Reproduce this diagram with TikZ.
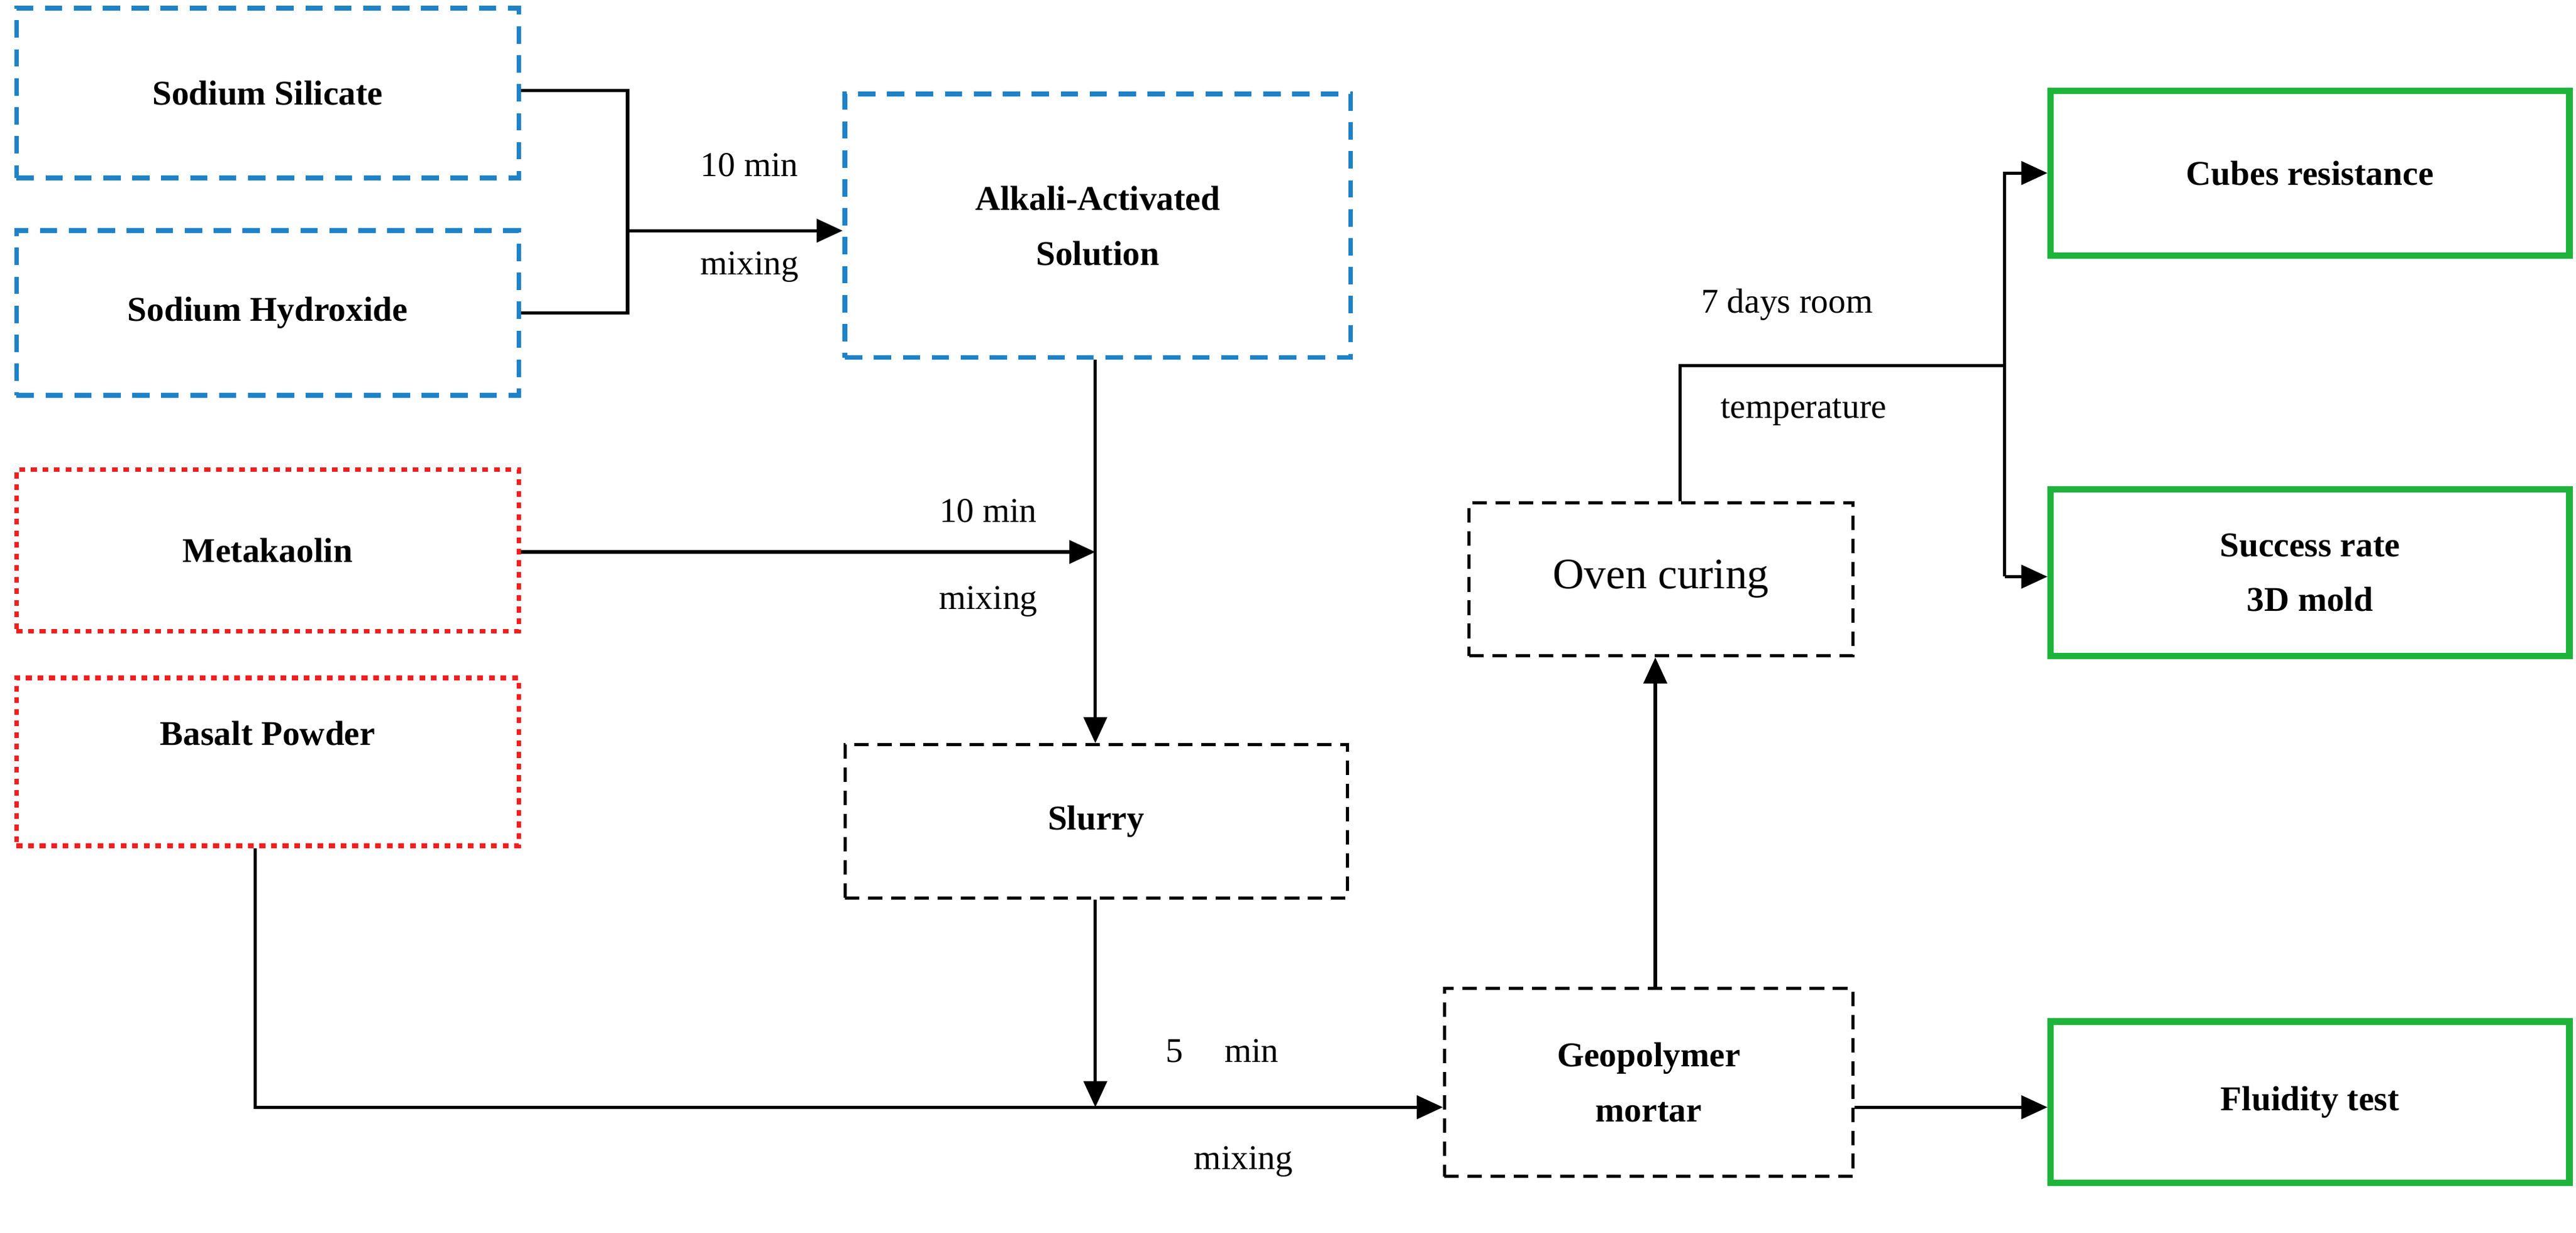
\documentclass[tikz,border=0pt]{standalone}
\usepackage{fontspec}
\setmainfont{Liberation Serif}
\usetikzlibrary{arrows.meta}
\begin{document}
\begin{tikzpicture}[x=0.02cm,y=-0.02cm,
 box/.style={draw,line width=1.6pt,inner sep=0pt,align=center,font=\fontsize{12}{19}\selectfont\bfseries},
 blue/.style={box,draw={rgb,255:red,30;green,130;blue,200},dash pattern=on 6pt off 4pt},
 red/.style={box,draw={rgb,255:red,240;green,30;blue,30},dash pattern=on 2pt off 2pt},
 blk/.style={box,line width=1.1pt,dash pattern=on 5pt off 3pt},
 grn/.style={box,draw={rgb,255:red,30;green,180;blue,60},line width=2.2pt},
 ln/.style={line width=1.1pt},
 arr/.style={ln,-{Triangle[length=9pt,width=8pt]}},
 lbl/.style={font=\fontsize{12}{14}\selectfont}]
\useasboundingbox (0,0) rectangle (1564,748);
\node[blue,minimum width=305*0.02cm,minimum height=103*0.02cm] (ss) at (162.5,56.5) {Sodium Silicate};
\node[blue,minimum width=305*0.02cm,minimum height=100*0.02cm] (sh) at (162.5,190) {Sodium Hydroxide};
\node[blue,minimum width=307*0.02cm,minimum height=160*0.02cm] (aa) at (666.5,137) {Alkali-Activated\\Solution};
\node[red,minimum width=305*0.02cm,minimum height=98*0.02cm] (mk) at (162.5,334) {Metakaolin};
\node[red,minimum width=305*0.02cm,minimum height=102*0.02cm,anchor=north] (bp) at (162.5,410) {};
\node[font=\fontsize{12}{19}\selectfont\bfseries,inner sep=0pt] (bpl) at (162.5,445) {Basalt Powder};
\node[blk,minimum width=305*0.02cm,minimum height=93*0.02cm] (sl) at (665.5,498.5) {Slurry};
\node[blk,minimum width=233*0.02cm,minimum height=93*0.02cm,font=\fontsize{15}{18}\selectfont] (oc) at (1008.5,351.5) {Oven curing};
\node[blk,minimum width=248*0.02cm,minimum height=114*0.02cm] (gm) at (1001,657) {Geopolymer\\mortar};
\node[grn,minimum width=315*0.02cm,minimum height=100*0.02cm] (cr) at (1402.5,105) {Cubes resistance};
\node[grn,minimum width=315*0.02cm,minimum height=101*0.02cm] (sr) at (1402.5,347.5) {Success rate\\3D mold};
\node[grn,minimum width=315*0.02cm,minimum height=98*0.02cm] (ft) at (1402.5,669) {Fluidity test};
\coordinate (j1) at (381,140);
\draw[ln] (ss.east |- 0,55) -| (381,190) -- (sh.east |- 0,190);
\draw[arr] (j1) -- (aa.west |- j1);
\node[lbl] at (455,100) {10 min};
\node[lbl] at (455,162) {mixing};
\coordinate (j2) at (665,335);
\draw[arr] (aa.south -| 665,0) -- (sl.north -| 665,0);
\draw[arr] (mk.east |- j2) -- (j2);
\node[lbl] at (600,310) {10 min};
\node[lbl] at (600,365) {mixing};
\coordinate (j3) at (665,672);
\draw[arr] (sl.south -| 665,0) -- (j3);
\draw[arr] (bp.south -| 155,0) |- (gm.west |- j3);
\node[lbl] at (742,638) {5\hspace{1.2em}min};
\node[lbl] at (755,705) {mixing};
\draw[arr] (gm.north -| 1005,0) -- (oc.south -| 1005,0);
\coordinate (j4) at (1217,222);
\draw[ln] (oc.north -| 1020,0) |- (j4);
\draw[arr] (1217,350) |- (cr.west);
\draw[arr] (1217,350) -- (sr.west |- 0,350);
\node[lbl] at (1085,185) {7 days room};
\node[lbl] at (1095,250) {temperature};
\draw[arr] (gm.east |- j3) -- (ft.west |- j3);
\end{tikzpicture}
\end{document}
